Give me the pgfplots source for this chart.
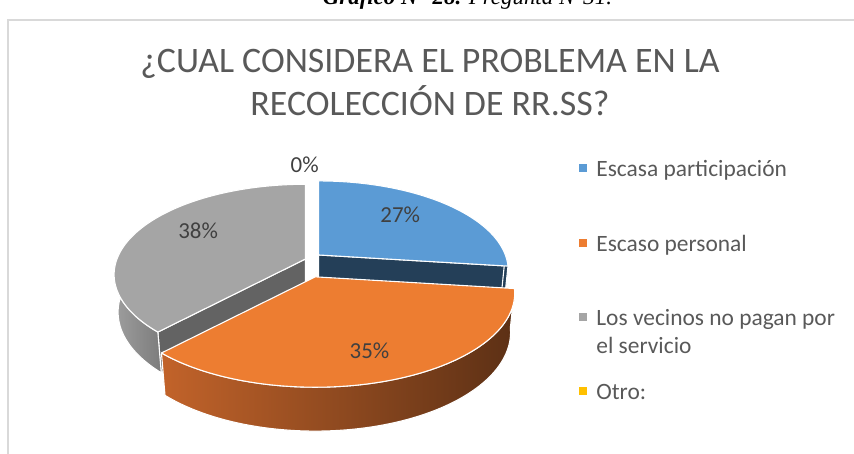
\documentclass[border=0pt]{standalone}
\usepackage{pgfplots}
\pgfplotsset{compat=1.18}
\usepackage{pgfplotstable}
\usepackage{fontspec}
\setmainfont{Carlito}
\newfontfamily\capfont{Liberation Serif}
\definecolor{cBlue}{HTML}{5B9BD5}
\definecolor{cBlueDark}{HTML}{243F58}
\definecolor{cOrange}{HTML}{ED7D31}
\definecolor{cOrL}{HTML}{C2632A}
\definecolor{cOrM}{HTML}{7A421C}
\definecolor{cOrR}{HTML}{5C3015}
\definecolor{cGray}{HTML}{A5A5A5}
\definecolor{cGrayDark}{HTML}{636363}
\definecolor{cGrL}{HTML}{9E9E9E}
\definecolor{cGrR}{HTML}{7C7C7C}
\definecolor{cYellow}{HTML}{FFC000}
\definecolor{txtTitle}{HTML}{595959}
\definecolor{txtLbl}{HTML}{404040}
\definecolor{frameGray}{HTML}{D9D9D9}

\pgfplotstableread[col sep=comma]{
category,value
Escasa participacion,27
Escaso personal,35
Los vecinos no pagan por el servicio,38
Otro,0
}\piedata

% projection parameters of the 3-D pie (pixels)
\def\Pscale{190.7}
\def\Psin{0.4648}
\def\Pcos{0.8854}
\def\Pdist{5.12}
\def\Pthick{0.227}
\def\Pcx{312.7}
\def\Pcy{190}
\def\PEx{7.7}
\def\PEy{13.65}
\def\PEz{0.179}
\newcommand\LS{\rule[-6bp]{0pt}{25bp}}

\begin{document}
\begin{tikzpicture}[declare function={
  kk(\pp,\hh)=\Pdist/(\Pdist+sin(\pp)*\Pcos-\hh*\Psin);
  RX(\pp,\hh)=\Pscale*cos(\pp)*kk(\pp,\hh);
  RY(\pp,\hh)=\Pscale*(sin(\pp)*\Psin+\hh*\Pcos)*kk(\pp,\hh);
  LX(\pp,\rr)=\Pscale*\rr*cos(\pp)*\Pdist/(\Pdist+\rr*sin(\pp)*\Pcos);
  LY(\pp,\rr)=\Pscale*\Psin*\rr*sin(\pp)*\Pdist/(\Pdist+\rr*sin(\pp)*\Pcos);
}, edge/.style={draw=white, line width=1.1bp, line join=round}]
\pgfplotstablegetelem{0}{value}\of\piedata \let\vA\pgfplotsretval
\pgfplotstablegetelem{1}{value}\of\piedata \let\vB\pgfplotsretval
\pgfplotstablegetelem{2}{value}\of\piedata \let\vC\pgfplotsretval
\pgfplotstablegetelem{3}{value}\of\piedata \let\vD\pgfplotsretval
\pgfmathsetmacro\tot{\vA+\vB+\vC+\vD}
\pgfmathsetmacro\aA{90}
\pgfmathsetmacro\aB{\aA-360*\vA/\tot}
\pgfmathsetmacro\aC{\aB-360*\vB/\tot}
\pgfmathsetmacro\aD{\aC-360*\vC/\tot}
\pgfmathsetmacro\aE{\aD-360*\vD/\tot}
\pgfmathtruncatemacro\pA{round(100*\vA/\tot)}
\pgfmathtruncatemacro\pB{round(100*\vB/\tot)}
\pgfmathtruncatemacro\pC{round(100*\vC/\tot)}
\pgfmathtruncatemacro\pD{round(100*\vD/\tot)}
% mid angles, exploded apexes, perspective scale
\pgfmathsetmacro\mA{(\aA+\aB)/2}
\pgfmathsetmacro\mB{(\aB+\aC)/2}
\pgfmathsetmacro\mC{(\aC+\aD)/2}
\pgfmathsetmacro\mD{(\aD+\aE)/2}
\pgfmathsetmacro\xA{\Pcx+\PEx*cos(\mA)}\pgfmathsetmacro\yA{\Pcy+\PEy*sin(\mA)}
\pgfmathsetmacro\xB{\Pcx+\PEx*cos(\mB)}\pgfmathsetmacro\yB{\Pcy+\PEy*sin(\mB)}
\pgfmathsetmacro\xC{\Pcx+\PEx*cos(\mC)}\pgfmathsetmacro\yC{\Pcy+\PEy*sin(\mC)}
\pgfmathsetmacro\xD{\Pcx+\PEx*cos(\mD)}\pgfmathsetmacro\yD{\Pcy+\PEy*sin(\mD)}
\pgfmathsetmacro\gA{\Pdist/(\Pdist+\PEz*\Pcos*sin(\mA))}
\pgfmathsetmacro\gB{\Pdist/(\Pdist+\PEz*\Pcos*sin(\mB))}
\pgfmathsetmacro\gC{\Pdist/(\Pdist+\PEz*\Pcos*sin(\mC))}
\pgfmathsetmacro\gD{\Pdist/(\Pdist+\PEz*\Pcos*sin(\mD))}
\pgfmathsetmacro\BY{-\Pscale*\Pthick*\Pcos*\Pdist/(\Pdist+\Pthick*\Psin)}
% visible outer walls (front half)
\pgfmathsetmacro\wsA{min(\aA,0)}\pgfmathsetmacro\weA{max(\aB,-180)}
\pgfmathsetmacro\wsB{min(\aB,0)}\pgfmathsetmacro\weB{max(\aC,-180)}
\pgfmathsetmacro\wsC{min(\aC,0)}\pgfmathsetmacro\weC{max(\aD,-180)}
\begin{axis}[
  x=1bp, y=1bp, xmin=0, xmax=854, ymin=0, ymax=454,
  scale only axis, hide axis, clip=false,
  legend image code/.code={\fill[#1] (0bp,-3.5bp) rectangle (7bp,3.5bp);},
  legend style={at={(0.678,0.6526)}, anchor=north west, draw=none, fill=none,
     inner sep=0pt, outer sep=0pt, row sep=53.8bp, column sep=10bp,
     font=\fontsize{23.5}{28}\selectfont, text=txtTitle, nodes={inner sep=0pt}},
  legend cell align=left,
]
% chart frame and caption
\draw[frameGray, line width=1.4bp] (axis cs:8,-20) -- (axis cs:8,434) -- (axis cs:880,434);
\node[anchor=base, font=\fontsize{23}{27}\selectfont\capfont\itshape] at (axis cs:467.5,449)
  {\textbf{Gráfico N° 28.} Pregunta N°31.};
% title
\node[anchor=base, font=\fontsize{36}{40}\selectfont, text=txtTitle] at (axis cs:430,382)
  {¿CUAL CONSIDERA EL PROBLEMA EN LA};
\node[anchor=base, font=\fontsize{36}{40}\selectfont, text=txtTitle] at (axis cs:430,339)
  {RECOLECCIÓN DE RR.SS?};

% ---- slice A (blue) ----
\filldraw[fill=cBlueDark, edge] (\xA,\yA) -- ({\xA+\gA*RX(\aB,0)},{\yA+\gA*RY(\aB,0)})
   -- ({\xA+\gA*RX(\aB,-\Pthick)},{\yA+\gA*RY(\aB,-\Pthick)}) -- (\xA,{\yA+\gA*\BY}) -- cycle;
\filldraw[fill=cBlueDark, edge]
   plot[domain=\weA:\wsA, samples=20, variable=\pp] ({\xA+\gA*RX(\pp,0)},{\yA+\gA*RY(\pp,0)})
   -- plot[domain=\weA:\wsA, samples=20, variable=\pp] ({\xA+\gA*RX(\weA+\wsA-\pp,-\Pthick)},{\yA+\gA*RY(\weA+\wsA-\pp,-\Pthick)}) -- cycle;
\filldraw[fill=cBlue, edge] (\xA,\yA)
   -- plot[domain=\aB:\aA, samples=70, variable=\pp] ({\xA+\gA*RX(\pp,0)},{\yA+\gA*RY(\pp,0)}) -- cycle;

% ---- slice C (gray) ----
\filldraw[fill=cGrayDark, edge] (\xC,\yC) -- ({\xC+\gC*RX(\aC,0)},{\yC+\gC*RY(\aC,0)})
   -- ({\xC+\gC*RX(\aC,-\Pthick)},{\yC+\gC*RY(\aC,-\Pthick)}) -- (\xC,{\yC+\gC*\BY}) -- cycle;
\shadedraw[left color=cGrL, right color=cGrR, edge]
   plot[domain=\weC:\wsC, samples=50, variable=\pp] ({\xC+\gC*RX(\pp,0)},{\yC+\gC*RY(\pp,0)})
   -- plot[domain=\weC:\wsC, samples=50, variable=\pp] ({\xC+\gC*RX(\weC+\wsC-\pp,-\Pthick)},{\yC+\gC*RY(\weC+\wsC-\pp,-\Pthick)}) -- cycle;
\filldraw[fill=cGray, edge] (\xC,\yC)
   -- plot[domain=\aD:\aC, samples=90, variable=\pp] ({\xC+\gC*RX(\pp,0)},{\yC+\gC*RY(\pp,0)}) -- cycle;

% ---- slice B (orange) ----
\shadedraw[left color=cOrL, middle color=cOrM, right color=cOrR, edge]
   plot[domain=\weB:\wsB, samples=80, variable=\pp] ({\xB+\gB*RX(\pp,0)},{\yB+\gB*RY(\pp,0)})
   -- plot[domain=\weB:\wsB, samples=80, variable=\pp] ({\xB+\gB*RX(\weB+\wsB-\pp,-\Pthick)},{\yB+\gB*RY(\weB+\wsB-\pp,-\Pthick)}) -- cycle;
\filldraw[fill=cOrange, edge] (\xB,\yB)
   -- plot[domain=\aC:\aB, samples=80, variable=\pp] ({\xB+\gB*RX(\pp,0)},{\yB+\gB*RY(\pp,0)}) -- cycle;

% ---- data labels ----
\begin{scope}[every node/.style={font=\fontsize{23}{26}\selectfont, text=txtLbl}]
\node[xshift=-3bp, yshift=5bp] at ({\xA+\gA*LX(\mA,0.65)},{\yA+\gA*LY(\mA,0.65)}) {\pA\%};
\node[xshift=5bp, yshift=-10bp] at ({\xB+\gB*LX(\mB,0.66)},{\yB+\gB*LY(\mB,0.66)}) {\pB\%};
\node[xshift=2bp, yshift=8bp] at ({\xC+\gC*LX(\mC,0.65)},{\yC+\gC*LY(\mC,0.65)}) {\pC\%};
\node[xshift=-8bp] at ({\xD+\gD*LX(\mD,1.2)},{\yD+\gD*LY(\mD,1.2)}) {\pD\%};
\end{scope}

% ---- legend ----
\addlegendimage{cBlue}
\addlegendentry{\LS Escasa participación}
\addlegendimage{cOrange}
\addlegendentry{\LS Escaso personal}
\addlegendimage{cGray}
\addlegendentry{\rule[-10bp]{0pt}{29bp}\smash{\rlap{\raisebox{-28bp}{el servicio}}}Los vecinos no pagan por}
\addlegendimage{cYellow}
\addlegendentry{\LS Otro:}
\end{axis}
\pgfresetboundingbox
\useasboundingbox (0,0) rectangle (854bp,454bp);
\end{tikzpicture}
\end{document}
